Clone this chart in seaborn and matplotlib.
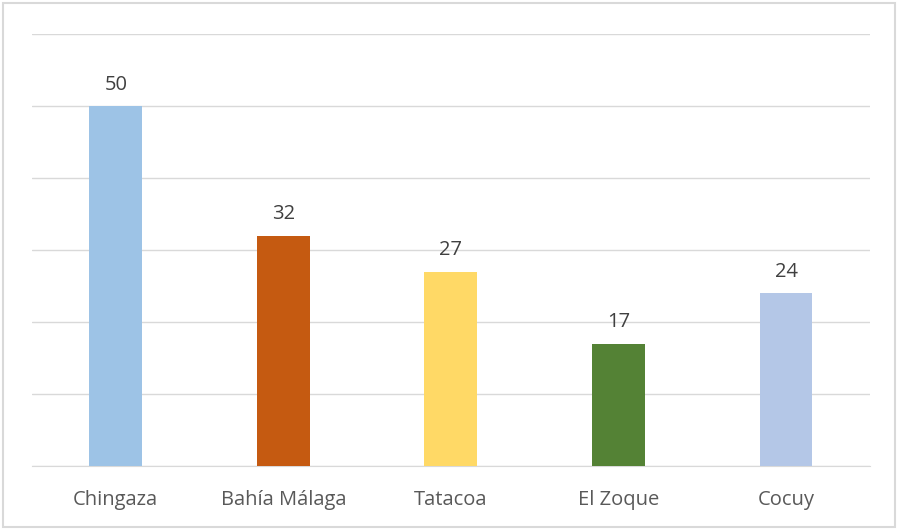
import matplotlib
matplotlib.use("Agg")
import matplotlib.pyplot as plt
import seaborn as sns
import pandas as pd
from matplotlib.patches import Rectangle

sites = ["Chingaza", "Bahía Málaga", "Tatacoa", "El Zoque", "Cocuy"]
counts = [50, 32, 27, 17, 24]
colors = ["#9DC3E6", "#C55A11", "#FFD966", "#548235", "#B4C7E7"]

df = pd.DataFrame({"site": sites, "count": counts})

sns.set_style("white")
plt.rcParams["font.family"] = ["Open Sans", "DejaVu Sans"]

fig = plt.figure(figsize=(8.98, 5.29), dpi=100)
ax = fig.add_axes([0.0356, 0.119, 0.933, 0.817])

sns.barplot(data=df, x="site", y="count", hue="site", palette=colors,
            width=0.316, saturation=1, legend=False, ax=ax, zorder=3,
            linewidth=0)

ax.set_ylim(0, 60)
ax.set_yticks(range(0, 61, 10))
ax.yaxis.grid(True, color="#d9d9d9", linewidth=1, zorder=0)
ax.set_yticklabels([])
ax.tick_params(axis="y", length=0)
ax.tick_params(axis="x", length=0, pad=17, labelsize=14.5, labelcolor="#595959")
ax.set_xlabel("")
ax.set_ylabel("")
for s in ["top", "right", "left"]:
    ax.spines[s].set_visible(False)
ax.spines["bottom"].set_color("#d9d9d9")

for c in ax.containers:
    ax.bar_label(c, padding=8, fontsize=14.5, color="#404040")

fig.patches.append(Rectangle((0.003, 0.004), 0.994, 0.99, transform=fig.transFigure,
                             fill=False, edgecolor="#d9d9d9", linewidth=1.5))

fig.savefig("out.png", dpi=100)
